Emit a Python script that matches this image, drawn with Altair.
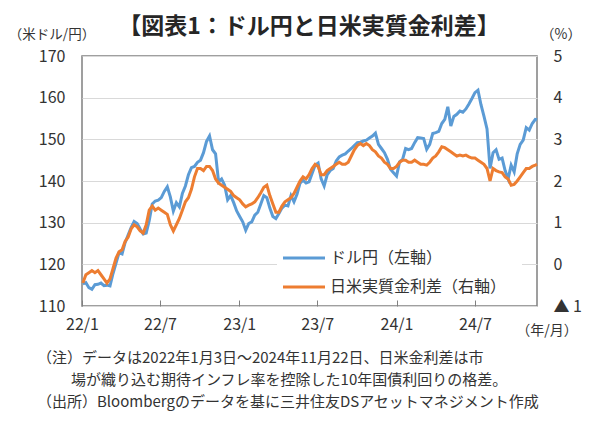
import altair as alt
import pandas as pd

# ---- data (weekly readings, Mondays from 2022-01-03, plus 2024-11-22) ----
dates = list(pd.date_range("2022-01-03", "2024-11-18", freq="7D").strftime("%Y-%m-%d")) + ["2024-11-22"]

usdjpy = [
    # 2022
    115.3, 115.6, 114.4, 114.0, 115.1,
    115.2, 115.5, 114.9, 115.0,
    114.8, 117.8, 120.3, 122.8,
    122.5, 125.2, 127.0, 128.8,
    130.3, 129.8, 128.5, 127.3, 127.5,
    130.5, 134.5, 135.2, 135.4,
    136.0, 137.5, 138.6, 136.2,
    132.8, 134.8, 133.8, 137.0, 138.8,
    141.5, 143.2, 143.5, 144.5,
    145.0, 146.8, 149.5, 150.8, 147.5,
    146.5, 139.8, 140.5, 139.0,
    135.5, 136.5, 134.8, 132.8,
    # 2023
    131.5, 130.2, 128.2, 129.8, 130.2,
    131.8, 132.5, 134.5, 136.5,
    136.0, 133.5, 131.5, 131.0,
    132.2, 133.5, 134.2, 134.0,
    136.5, 135.0, 136.8, 139.5, 140.2,
    139.5, 139.8, 141.8, 143.8,
    144.3, 140.5, 138.8, 141.5, 142.5,
    143.0, 144.8, 145.8, 146.2,
    146.5, 147.2, 147.8, 148.5,
    149.2, 149.3, 149.6, 149.8, 150.3,
    150.8, 151.5, 148.8, 147.8,
    146.8, 145.2, 142.8, 142.0,
    # 2024
    141.2, 144.6, 145.2, 147.8, 147.5,
    147.8, 149.2, 150.4, 150.3,
    150.2, 147.6, 148.8, 151.4,
    151.6, 151.9, 153.8, 154.8, 157.8,
    153.2, 155.5, 156.0, 156.8,
    156.5, 157.3, 158.5, 159.8,
    161.2, 161.8, 158.3, 155.5, 152.5,
    143.0, 146.8, 147.5, 145.2,
    145.5, 142.5, 140.5, 143.8, 142.2,
    146.5, 148.8, 149.8, 152.8,
    152.2, 153.8, 154.8,
    154.7,
]

spread = [
    # 2022
    -0.45, -0.25, -0.20, -0.15, -0.20,
    -0.15, -0.25, -0.35, -0.45,
    -0.35, -0.10, 0.15, 0.30,
    0.35, 0.55, 0.65, 0.85,
    0.95, 0.90, 0.80, 0.75, 0.95,
    1.30, 1.40, 1.30, 1.35,
    1.30, 1.25, 1.20, 0.95,
    0.80, 0.95, 1.10, 1.30, 1.50,
    1.60, 1.80, 2.10, 2.30,
    2.30, 2.25, 2.35, 2.35, 2.25,
    2.05, 1.95, 1.90, 1.85,
    1.80, 1.75, 1.65, 1.60,
    # 2023
    1.55, 1.45, 1.38, 1.42, 1.45,
    1.50, 1.60, 1.72, 1.85,
    1.90, 1.65, 1.45, 1.25,
    1.25, 1.40, 1.50, 1.55,
    1.60, 1.70, 1.85, 2.00, 2.10,
    2.05, 2.15, 2.30, 2.40,
    2.35, 2.15, 2.15, 2.25, 2.30,
    2.35, 2.40, 2.45, 2.40,
    2.40, 2.45, 2.60, 2.75,
    2.85, 2.90, 2.85, 2.90, 2.85,
    2.75, 2.70, 2.60, 2.55,
    2.45, 2.40, 2.30, 2.30,
    # 2024
    2.35, 2.45, 2.50, 2.50, 2.45,
    2.45, 2.50, 2.45, 2.40,
    2.40, 2.38, 2.45, 2.55,
    2.60, 2.70, 2.82, 2.80, 2.75,
    2.70, 2.65, 2.60, 2.62,
    2.60, 2.62, 2.58, 2.55,
    2.55, 2.50, 2.45, 2.40, 2.30,
    2.00, 2.30, 2.25, 2.22,
    2.20, 2.10, 2.05, 1.90, 1.92,
    2.00, 2.10, 2.20, 2.30,
    2.30, 2.35, 2.38,
    2.40,
]

left_ticks = [110, 120, 130, 140, 150, 160, 170]
right_ticks = [-1, 0, 1, 2, 3, 4, 5]
x_tick_dates = [(2022, 1), (2022, 7), (2023, 1), (2023, 7), (2024, 1), (2024, 7)]

title_text = "【図表1：ドル円と日米実質金利差】"
left_unit = "（米ドル/円）"
right_unit = "（%）"
x_unit = "（年/月）"
legend_labels = ["ドル円（左軸）", "日米実質金利差（右軸）"]
notes = [
    "（注）データは2022年1月3日～2024年11月22日、日米金利差は市",
    "場が織り込む期待インフレ率を控除した10年国債利回りの格差。",
    "（出所）Bloombergのデータを基に三井住友DSアセットマネジメント作成",
]

assert len(dates) == len(usdjpy) == len(spread)

df = pd.DataFrame({"date": dates, "usd": usdjpy, "spread": spread})
one = pd.DataFrame({"a": [0]})

FONT = "Noto Sans CJK JP"
BLUE = "#5B9BD5"
ORANGE = "#ED7D31"
TXT = "#333333"

xscale = alt.Scale(type="utc", domain=[alt.DateTime(year=2022, month=1, date=1, utc=True),
                                      alt.DateTime(year=2024, month=11, date=22, utc=True)])
xaxis = alt.Axis(
    values=[alt.DateTime(year=y, month=m, date=1, utc=True) for y, m in x_tick_dates],
    format="%y/%-m", title=None, grid=False, domain=False,
    tickSize=6, offset=-6, tickColor="#808080", tickWidth=1,
    labelFontSize=16, labelFont=FONT, labelColor=TXT, labelPadding=10,
    labelFlush=False, labelOverlap=False, zindex=1,
)

x_enc = alt.X("date:T", scale=xscale, axis=xaxis)

blue = alt.Chart(df).mark_line(color=BLUE, strokeWidth=3).encode(
    x=x_enc,
    y=alt.Y("usd:Q", scale=alt.Scale(domain=[110, 170], nice=False, zero=False),
            axis=alt.Axis(values=left_ticks, orient="left", title=None, ticks=False, domain=False,
                          grid=True, gridColor="#d9d9d9", gridWidth=1,
                          labelFontSize=16, labelFont=FONT, labelColor=TXT, labelPadding=17,
                          labelFlush=False, labelOverlap=False)),
)

orange = alt.Chart(df).mark_line(color=ORANGE, strokeWidth=3).encode(
    x=x_enc,
    y=alt.Y("spread:Q", scale=alt.Scale(domain=[-1, 5], nice=False, zero=False),
            axis=alt.Axis(values=right_ticks, orient="right", title=None, ticks=False, domain=False,
                          grid=False, labelFontSize=16, labelFont=FONT, labelColor=TXT,
                          labelPadding=16, labelAlign="left", labelFlush=False, labelOverlap=False,
                          labelExpr="datum.value < 0 ? '▲ ' + format(-datum.value, 'd') : datum.label")),
)

legend_box = alt.Chart(one).mark_rect(color="white").encode(
    x=alt.value(195), x2=alt.value(440), y=alt.value(176), y2=alt.value(248)
)
leg_blue = alt.Chart(one).mark_rule(color=BLUE, strokeWidth=3).encode(
    x=alt.value(201), x2=alt.value(243), y=alt.value(202)
)
leg_orange = alt.Chart(one).mark_rule(color=ORANGE, strokeWidth=3).encode(
    x=alt.value(201), x2=alt.value(243), y=alt.value(231)
)


def txt(s, x, y, size, align="left", weight="normal", color=TXT):
    return alt.Chart(one).mark_text(text=s, align=align, baseline="middle", font=FONT,
                                    fontSize=size, fontWeight=weight, color=color).encode(
        x=alt.value(x), y=alt.value(y))


layers = [
    blue, orange, legend_box, leg_blue, leg_orange,
    txt(legend_labels[0], 248, 202, 16),
    txt(legend_labels[1], 248, 231, 16),
    txt(title_text, 227, -29, 23, align="center", weight="bold", color="#262626"),
    txt(left_unit, -30, -21, 13.5, align="center"),
    txt(right_unit, 479, -21, 14, align="center"),
    txt(x_unit, 465, 275, 14, align="center"),
    txt(notes[0], -45, 302, 15),
    txt(notes[1], -11, 324, 15),
    txt(notes[2], -45, 346, 15),
]

chart = alt.layer(*layers).resolve_scale(y="independent").properties(
    width=455, height=250,
    autosize=alt.AutoSizeParams(type="none"),
    padding={"left": 74, "top": 48, "right": 55, "bottom": 112},
    background="white",
).configure_view(stroke="#808080", strokeWidth=1.5)

chart.save("out.html", embed_options={"renderer": "svg", "actions": False})
